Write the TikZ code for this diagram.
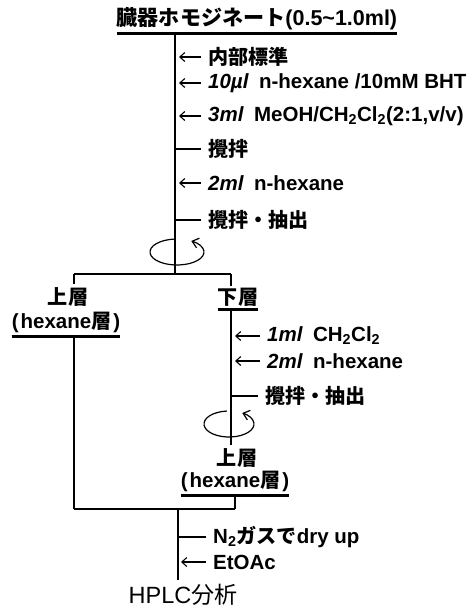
\documentclass[tikz,border=0pt]{standalone}
\usepackage{fontspec}
\setmainfont{Liberation Sans}
\newfontfamily\jpfont{Noto Sans CJK JP}[Scale=0.98]
\newcommand\jtext[1]{{\jpfont #1}}
\usetikzlibrary{arrows.meta}

\begin{document}
\begin{tikzpicture}[
  x = 1pt, y = 1pt,
  every node/.style = {font=\bfseries\fontsize{20.5}{24}\selectfont, inner sep=0pt},
  lbl/.style      = {anchor=west},
  headline/.style = {font=\bfseries\fontsize{21.5}{25}\selectfont},
  flow/.style     = {line width=1.6pt},
  uline/.style    = {line width=2.6pt},
  feed/.style     = {->, >={Straight Barb[length=5pt,width=9pt]}, line width=1.1pt},
  mixbar/.style   = {line width=1.1pt},
  spin/.style     = {->, >={Straight Barb[length=6pt,width=10pt]}, line width=1.2pt}
]
\useasboundingbox (0,0) rectangle (473,-613);

%% ── TOP: homogenate + main trunk ─────────────────────────────────
\node[headline] at (257,-19) (homog) {\jtext{臓器ホモジネート}(0.5\textasciitilde 1.0ml)};
\coordinate (split)  at (175,-274);
\coordinate (splitL) at (74,-274);
\coordinate (splitR) at (231,-274);

\node[lbl] at (208,-57)  (istd) {\jtext{内部標準}};
\node[lbl] at (208,-83)  (bht)  {\textit{10µl}\enspace n-hexane /10mM BHT};
\node[lbl] at (208,-116) (meoh) {\textit{3ml}\enspace MeOH/CH\textsubscript{2}Cl\textsubscript{2}(2:1,v/v)};
\node[lbl] at (208,-149) (mixA) {\jtext{攪拌}};
\node[lbl] at (208,-183) (hexA) {\textit{2ml}\enspace n-hexane};
\node[lbl] at (208,-220) (extA) {\jtext{攪拌・抽出}};
\coordinate (spinA) at (177,-252);

%% ── LEFT: upper layer ────────────────────────────────────────────
\node at (68,-297) (upL)  {\jtext{上層}};
\node at (66,-322) (hexL) {(\kern2pt hexane\jtext{層}\kern2pt)};
\coordinate (joinL) at (74,-509);

%% ── RIGHT: lower layer, re-extraction ────────────────────────────
\node at (238,-297) (lowR) {\jtext{下層}};
\node[lbl] at (267,-336) (dcm)  {\textit{1ml}\enspace CH\textsubscript{2}Cl\textsubscript{2}};
\node[lbl] at (267,-361) (hexB) {\textit{2ml}\enspace n-hexane};
\node[lbl] at (265,-396) (extB) {\jtext{攪拌・抽出}};
\coordinate (spinB) at (229,-424);
\node at (237,-458) (upR)  {\jtext{上層}};
\node at (235,-481) (hexR) {(\kern2pt hexane\jtext{層}\kern2pt)};
\coordinate (joinR) at (235,-509);

%% ── BOTTOM: combine + analysis ───────────────────────────────────
\coordinate (merge) at (178,-509);
\node[lbl] at (213,-537) (dry)  {N\textsubscript{2}\jtext{ガスで}dry up};
\node[lbl] at (213,-562) (etac) {EtOAc};
\node[font=\fontsize{23.5}{26}\selectfont] at (183,-595) (hplc) {HPLC\jtext{分析}};

%% ── UNDERLINES ───────────────────────────────────────────────────
\draw[uline] ([yshift=-3pt]homog.south west) -- ([yshift=-3pt]homog.south east);
\draw[uline] ([yshift=-4pt]hexL.south west)  -- ([yshift=-4pt]hexL.south east);
\draw[uline] ([yshift=-3pt]lowR.south west)  -- ([yshift=-3pt]lowR.south east);
\draw[uline] ([yshift=-4pt]hexR.south west)  -- ([yshift=-4pt]hexR.south east);

%% ── LINES ────────────────────────────────────────────────────────
\draw[flow] ([yshift=-3pt]homog.south -| split) -- (split);
\draw[flow] (splitL) -- (splitR);
\draw[flow] (splitL) -- ([yshift=3pt]upL.north -| splitL);
\draw[flow] (splitR) -- ([yshift=2pt]lowR.north -| splitR);
\draw[flow] ([yshift=-4pt]hexL.south -| joinL) -- (joinL);
\draw[flow] ([yshift=-3pt]lowR.south -| splitR) -- ([yshift=3pt]upR.north -| splitR);
\draw[flow] ([yshift=-4pt]hexR.south -| joinR) -- (joinR);
\draw[flow] (joinL) -- (joinR);
\draw[flow] (merge) -- ([yshift=4pt]hplc.north -| merge);

%% ── ADDITIONS / STIRRING ─────────────────────────────────────────
\foreach \n in {istd,bht,meoh,hexA}
  \draw[feed] ([xshift=-7pt]\n.west) -- ([xshift=4pt]\n.west -| split);
\foreach \n in {dcm,hexB}
  \draw[feed] ([xshift=-7pt]\n.west) -- ([xshift=4pt]\n.west -| splitR);
\draw[feed] ([xshift=-7pt]etac.west) -- ([xshift=3pt]etac.west -| merge);
\foreach \n in {mixA,extA}
  \draw[mixbar] ([xshift=-7pt]\n.west) -- (\n.west -| split);
\draw[mixbar] ([xshift=-7pt]extB.west) -- (extB.west -| splitR);
\draw[mixbar] ([xshift=-7pt]dry.west) -- (dry.west -| merge);

%% ── CENTRIFUGE ───────────────────────────────────────────────────
\draw[spin] ([shift={(95:27pt and 13pt)}]spinA)
  arc[start angle=95, end angle=418, x radius=27pt, y radius=13pt];
\draw[spin] ([shift={(95:25pt and 13pt)}]spinB)
  arc[start angle=95, end angle=418, x radius=25pt, y radius=13pt];

\end{tikzpicture}
\end{document}
